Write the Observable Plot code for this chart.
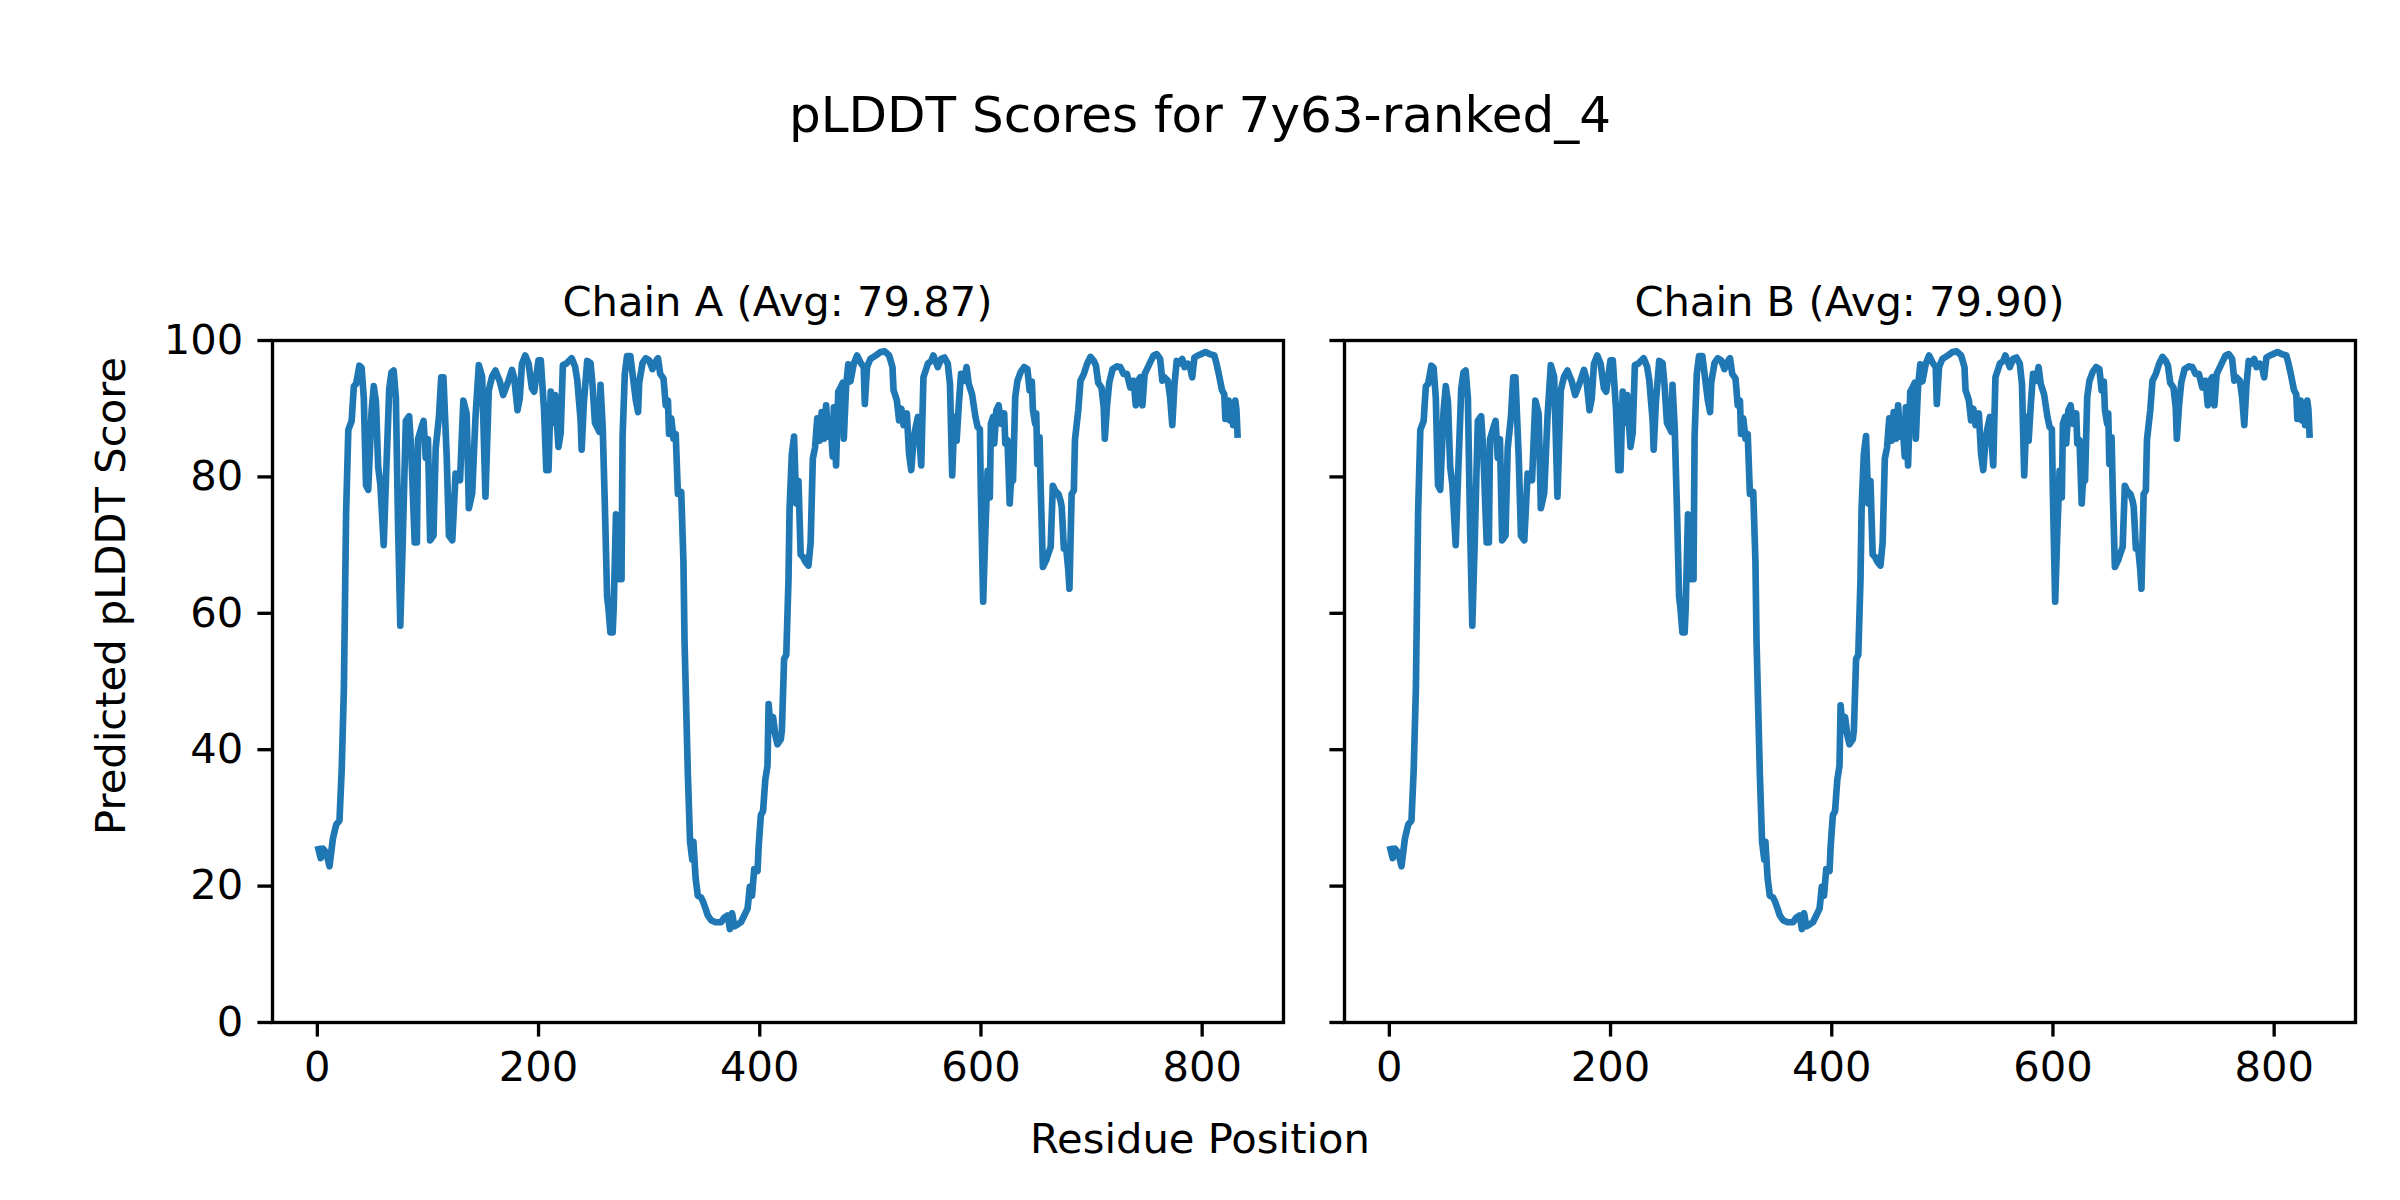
<!DOCTYPE html>
<html>
<head>
<meta charset="utf-8">
<script src="https://cdn.jsdelivr.net/npm/d3@7"></script>
<script src="https://cdn.jsdelivr.net/npm/@observablehq/plot@0.6"></script>
<style>
html, body { margin: 0; padding: 0; background: #fff; }
#fig { position: relative; width: 2400px; height: 1200px; overflow: hidden; font-family: "DejaVu Sans"; background: #fff; }
#fig svg { position: absolute; }
</style>
</head>
<body>
<div id="fig"></div>
<script>
// ---------------- data ----------------
const figTitle = "pLDDT Scores for 7y63-ranked_4";
const xLabel = "Residue Position";
const yLabel = "Predicted pLDDT Score";
const chains = ["A", "B"];
const averages = [79.87, 79.90];
const xTicks = [0, 200, 400, 600, 800];
const yTicks = [0, 20, 40, 60, 80, 100];

const residues = [
  1,3,5,8,11,14,17,20,22,24,26,28,31,33,35,38,40,42,44,46,49,51,53,55,57,60,62,65,67,69,
  71,73,75,77,80,83,85,88,90,91,94,96,98,100,102,105,107,110,112,114,117,119,122,125,129,132,135,137,140,143,
  146,149,152,155,158,161,165,168,173,176,178,181,183,185,188,191,194,196,200,202,205,207,209,211,213,215,218,220,222,225,
  230,233,235,238,239,241,244,247,249,251,253,255,256,258,260,262,263,265,267,268,270,272,273,275,276,278,280,283,285,288,
  290,291,294,297,300,303,305,308,310,313,315,317,318,320,322,324,326,329,331,332,335,337,339,340,342,344,347,349,351,353,
  356,360,365,368,371,373,375,377,380,383,386,389,391,393,395,398,399,401,403,405,407,408,410,412,414,416,419,420,422,424,
  426,427,429,431,433,435,437,439,441,444,446,448,450,452,454,456,458,460,462,464,466,467,469,471,473,475,476,478,480,482,
  485,488,491,494,495,497,500,505,509,513,517,520,521,524,526,528,530,533,535,537,539,541,543,546,548,552,555,557,561,564,
  567,570,572,574,576,578,580,582,585,587,589,592,595,597,599,600,602,604,606,608,609,611,612,614,616,618,621,622,624,626,
  627,629,631,633,636,639,642,644,646,647,649,650,651,653,654,656,659,661,663,665,667,670,672,673,675,677,679,680,682,684,
  685,688,690,693,696,699,702,704,706,709,711,712,714,716,719,723,726,729,732,735,738,740,742,744,746,748,751,753,756,759,
  762,764,766,769,771,773,775,777,779,782,784,787,789,791,793,796,799,803,807,811,813,815,818,820,821,824,825,827,828,830,
  831,832
];

const plddtA = [
  25.4,24.1,25.5,24.9,22.9,26.9,29.0,29.6,37.0,49.0,74.7,86.9,88.2,93.3,93.6,96.3,96.0,91.6,78.8,78.1,89.6,93.3,91.0,81.5,78.8,70.0,79.5,92.9,95.3,95.6,
  91.6,72.7,58.2,69.4,88.2,88.9,83.5,70.4,70.4,85.5,87.2,88.2,82.8,85.5,70.7,71.4,84.2,88.9,94.6,94.6,82.8,71.4,70.7,80.5,79.5,91.2,89.3,75.4,77.6,88.8,
  96.4,94.7,77.1,92.7,94.7,95.6,94.0,92.0,94.2,95.7,94.5,89.8,91.5,96.6,97.8,96.6,93.0,92.5,97.1,97.1,89.8,81.0,81.0,92.5,87.9,92.0,84.4,86.4,96.4,96.6,
  97.4,96.2,94.2,88.4,84.0,91.0,97.0,96.7,93.1,87.9,87.3,86.6,93.5,87.3,75.5,62.4,61.1,57.2,57.2,61.1,74.5,74.2,65.0,65.0,86.0,95.1,97.7,97.7,95.1,91.2,
  89.5,93.8,96.7,97.4,97.1,95.8,96.7,97.4,95.1,94.4,90.5,91.2,86.3,88.6,85.6,86.3,77.5,77.8,67.6,55.9,36.3,26.5,23.9,26.5,21.2,18.6,18.3,17.6,16.7,15.7,
  15.0,14.7,14.7,15.4,15.7,13.7,16.0,14.1,14.4,14.7,15.7,16.7,19.9,18.6,22.5,22.2,25.8,30.4,31.0,35.6,37.6,46.7,42.8,44.8,42.2,40.8,41.5,42.8,53.3,53.9,
  65.0,75.5,83.3,85.9,76.1,79.4,68.6,68.3,67.6,67.0,70.3,82.7,84.3,88.6,85.3,89.5,85.6,90.5,85.9,87.9,83.0,90.2,81.7,92.5,93.1,93.8,85.6,93.1,96.5,94.0,
  96.6,97.8,96.8,96.1,90.7,96.1,97.3,97.8,98.3,98.4,97.8,96.1,92.7,91.2,88.3,90.0,87.6,89.3,83.4,81.0,85.3,87.3,88.8,81.7,94.6,96.6,97.0,97.8,96.1,97.3,
  97.5,96.6,93.6,80.2,88.8,85.3,90.7,95.1,94.1,96.1,93.6,92.1,88.8,87.3,87.0,77.0,61.7,72.2,80.9,77.0,87.8,88.8,84.9,89.8,90.5,87.8,89.3,84.9,85.4,76.1,
  79.0,79.5,91.7,94.1,95.4,96.1,95.8,92.7,94.0,89.8,87.8,89.3,81.9,85.8,78.5,66.8,67.8,68.8,69.7,78.7,78.0,77.5,76.5,75.6,69.5,69.7,66.3,63.6,77.5,78.0,
  85.4,89.8,94.1,95.1,96.6,97.6,97.0,96.3,93.8,93.1,90.2,85.6,90.5,93.8,95.8,96.2,96.1,95.1,95.1,93.1,94.1,90.5,94.1,94.6,90.5,95.1,96.1,96.8,97.8,98.0,
  97.3,94.1,94.6,94.1,91.7,87.6,93.6,97.0,96.6,97.3,96.1,96.6,96.1,94.6,97.5,97.8,98.0,98.3,98.0,97.8,96.6,95.1,92.7,92.1,88.5,91.2,88.3,90.7,87.6,91.2,
  89.8,86.2
];

const plddtB = [
  25.4,24.1,25.5,24.9,22.9,26.9,29.0,29.6,37.0,49.0,74.7,86.9,88.2,93.3,93.6,96.3,96.0,91.6,78.8,78.1,89.6,93.3,91.0,81.5,78.8,70.0,79.5,92.9,95.3,95.6,
  91.6,72.7,58.2,69.4,88.2,88.9,83.5,70.4,70.4,85.5,87.2,88.2,82.8,85.5,70.7,71.4,84.2,88.9,94.6,94.6,82.8,71.4,70.7,80.5,79.5,91.2,89.3,75.4,77.6,88.8,
  96.4,94.7,77.1,92.7,94.7,95.6,94.0,92.0,94.2,95.7,94.5,89.8,91.5,96.6,97.8,96.6,93.0,92.5,97.1,97.1,89.8,81.0,81.0,92.5,87.9,92.0,84.4,86.4,96.4,96.6,
  97.4,96.2,94.2,88.4,84.0,91.0,97.0,96.7,93.1,87.9,87.3,86.6,93.5,87.3,75.5,62.4,61.1,57.2,57.2,61.1,74.5,74.2,65.0,65.0,86.0,95.1,97.7,97.7,95.1,91.2,
  89.5,93.8,96.7,97.4,97.1,95.8,96.7,97.4,95.1,94.4,90.5,91.2,86.3,88.6,85.6,86.3,77.5,77.8,67.6,55.9,36.3,26.5,23.9,26.5,21.2,18.6,18.3,17.6,16.7,15.7,
  15.0,14.7,14.7,15.4,15.7,13.7,16.0,14.1,14.4,14.7,15.7,16.7,19.9,18.6,22.5,22.2,25.8,30.4,31.0,35.6,37.6,46.5,42.8,44.8,42.2,40.8,41.5,42.8,53.3,53.9,
  65.0,75.5,83.3,86.0,76.1,79.4,68.6,68.3,67.6,67.0,70.3,82.7,84.3,88.6,85.3,89.5,85.6,90.5,85.9,87.9,83.0,90.2,81.7,92.5,93.1,93.8,85.6,93.1,96.5,94.0,
  96.6,97.8,96.8,96.1,90.7,96.1,97.3,97.8,98.3,98.4,97.8,96.1,92.7,91.2,88.3,90.0,87.6,89.3,83.4,81.0,85.3,87.3,88.8,81.7,94.6,96.6,97.0,97.8,96.1,97.3,
  97.5,96.6,93.6,80.2,88.8,85.3,90.7,95.1,94.1,96.1,93.6,92.1,88.8,87.3,87.0,77.0,61.7,72.2,80.9,77.0,87.8,88.8,84.9,89.8,90.5,87.8,89.3,84.9,85.4,76.1,
  79.0,79.5,91.7,94.1,95.4,96.1,95.8,92.7,94.0,89.8,87.8,89.3,81.9,85.8,78.5,66.8,67.8,68.8,69.7,78.7,78.0,77.5,76.5,75.6,69.5,69.7,66.3,63.6,77.5,78.0,
  85.4,89.8,94.1,95.1,96.6,97.6,97.0,96.3,93.8,93.1,90.2,85.6,90.5,93.8,95.8,96.2,96.1,95.1,95.1,93.1,94.1,90.5,94.1,94.6,90.5,95.1,96.1,96.8,97.8,98.0,
  97.3,94.1,94.6,94.1,91.7,87.6,93.6,97.0,96.6,97.3,96.1,96.6,96.1,94.6,97.5,97.8,98.0,98.3,98.0,97.8,96.6,95.1,92.7,92.1,88.5,91.2,88.3,90.7,87.6,91.2,
  89.8,86.2
];

// ---------------- layout ----------------
const PT = 300 / 72;                 // matplotlib points -> pixels at 300 dpi
const FONT = "DejaVu Sans";
const frameTop = 340, frameBottom = 1022;
const panelLefts = [272, 1344];
const panelWidth = 1011;
const fig = document.getElementById("fig");

const lo = d3.min(residues), hi = d3.max(residues);
const pad = 0.05 * (hi - lo);

function panel(values, left, showLabels) {
  const mL = 140, mR = 20, mT = 20, mB = 90;
  const h = frameBottom - frameTop;
  const data = residues.map((r, i) => ({r, v: values[i]}));
  const chart = Plot.plot({
    width: panelWidth + mL + mR,
    height: h + mT + mB,
    marginLeft: mL, marginRight: mR, marginTop: mT, marginBottom: mB,
    style: {fontFamily: FONT, fontSize: `${10 * PT}px`, background: "transparent", overflow: "visible", color: "black"},
    x: {domain: [lo - pad, hi + pad]},
    y: {domain: [0, 100]},
    marks: [
      Plot.line(data, {x: "r", y: "v", stroke: "#1f77b4", strokeWidth: 1.6 * PT, strokeLinejoin: "round", strokeLinecap: "square"}),
      Plot.frame({stroke: "black", strokeWidth: 0.8 * PT}),
      Plot.axisX({ticks: xTicks, tickFormat: d => String(d), tickSize: 3.5 * PT, tickPadding: 3.5 * PT,
                  stroke: "black", strokeWidth: 0.8 * PT, label: null, fontSize: 10 * PT, fill: "black"}),
      Plot.axisY({ticks: yTicks, tickFormat: showLabels ? (d => String(d)) : (() => ""), tickSize: 3.5 * PT, tickPadding: 3.5 * PT,
                  stroke: "black", strokeWidth: 0.8 * PT, label: null, fontSize: 10 * PT, fill: "black"})
    ]
  });
  chart.style.left = (left - mL) + "px";
  chart.style.top = (frameTop - mT) + "px";
  fig.appendChild(chart);
}

panel(plddtA, panelLefts[0], true);
panel(plddtB, panelLefts[1], false);

// ---------------- texts ----------------
const svg = d3.select(fig).append("svg")
  .attr("width", 2400).attr("height", 1200)
  .style("left", "0px").style("top", "0px")
  .attr("font-family", FONT).attr("fill", "black");

svg.append("text").attr("x", 1200).attr("y", 132).attr("text-anchor", "middle")
  .attr("font-size", 12 * PT).text(figTitle);

chains.forEach((c, i) => {
  svg.append("text").attr("x", panelLefts[i] + panelWidth / 2).attr("y", 316)
    .attr("text-anchor", "middle").attr("font-size", 10 * PT)
    .text(`Chain ${c} (Avg: ${averages[i].toFixed(2)})`);
});

svg.append("text").attr("x", 1200).attr("y", 1153).attr("text-anchor", "middle")
  .attr("font-size", 10 * PT).text(xLabel);

svg.append("text").attr("transform", "translate(125,596) rotate(-90)").attr("text-anchor", "middle")
  .attr("font-size", 10 * PT).text(yLabel);
</script>
</body>
</html>
